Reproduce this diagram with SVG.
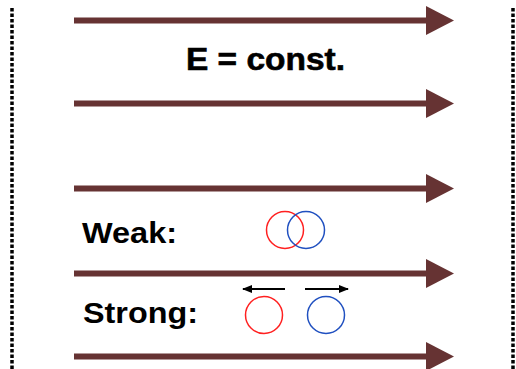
<svg xmlns="http://www.w3.org/2000/svg" width="516" height="369" viewBox="0 0 516 369">
<style>
.field{stroke:#663333;stroke-width:6;fill:none}
.head{fill:#663333}
.wall{stroke:#000;stroke-width:3.5;stroke-dasharray:3.5 2;fill:none}
.lbl{font-family:"Liberation Sans",Arial,sans-serif;font-weight:bold;fill:#000}
.small{stroke:#000;stroke-width:2;fill:none}
</style>
<defs>
<marker id="tip" viewBox="0 0 10 8" refX="9" refY="4" markerWidth="5" markerHeight="4" orient="auto" markerUnits="strokeWidth">
<path d="M0,0 L10,4 L0,8 z" fill="#000"/>
</marker>
</defs>
<rect width="516" height="369" fill="#fff"/>
<g id="walls">
<line class="wall" x1="12" y1="8" x2="12" y2="369"/>
<line class="wall" x1="513" y1="8" x2="513" y2="369"/>
</g>
<g id="connectors">
<line class="field" x1="74" y1="20.5" x2="428" y2="20.5"/>
<polygon class="head" points="426,6 454,20.5 426,35"/>
<line class="field" x1="74" y1="103.5" x2="428" y2="103.5"/>
<polygon class="head" points="426,89 454,103.5 426,118"/>
<line class="field" x1="74" y1="188.5" x2="428" y2="188.5"/>
<polygon class="head" points="426,174 454,188.5 426,203"/>
<line class="field" x1="74" y1="273.5" x2="428" y2="273.5"/>
<polygon class="head" points="426,259 454,273.5 426,288"/>
<line class="field" x1="74" y1="356.5" x2="428" y2="356.5"/>
<polygon class="head" points="426,342 454,356.5 426,371"/>
<line class="small" x1="285" y1="289" x2="243" y2="289" marker-end="url(#tip)"/>
<line class="small" x1="305" y1="289" x2="348" y2="289" marker-end="url(#tip)"/>
</g>
<g id="title"><text class="lbl" x="186" y="70" font-size="31" font-weight="normal" stroke="#000" stroke-width="0.6" textLength="159" lengthAdjust="spacingAndGlyphs">E = const.</text></g>
<g id="weak">
<text class="lbl" x="82" y="243" font-size="30" textLength="95" lengthAdjust="spacingAndGlyphs">Weak:</text>
<circle cx="285" cy="230" r="18.5" fill="none" stroke="#ff2020" stroke-width="1.5"/>
<circle cx="306" cy="230" r="18.5" fill="none" stroke="#2050c0" stroke-width="1.5"/>
</g>
<g id="strong">
<text class="lbl" x="83" y="323" font-size="30" textLength="115" lengthAdjust="spacingAndGlyphs">Strong:</text>
<circle cx="264" cy="315" r="18.5" fill="none" stroke="#ff2020" stroke-width="1.5"/>
<circle cx="326" cy="315" r="18.5" fill="none" stroke="#2050c0" stroke-width="1.5"/>
</g>
</svg>
